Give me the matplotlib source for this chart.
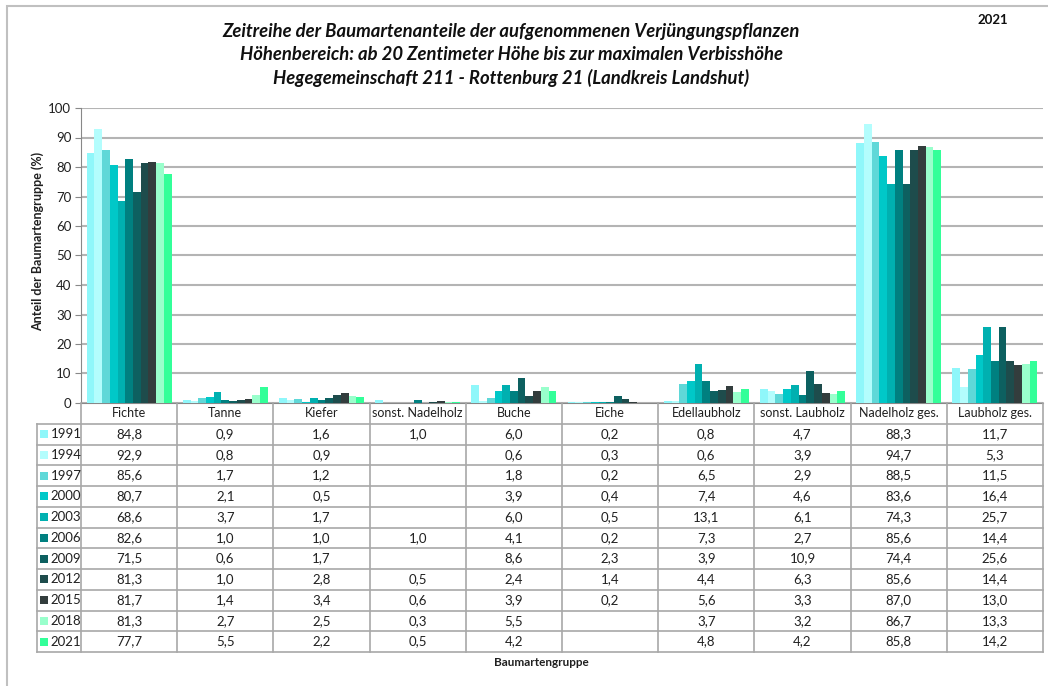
import numpy as np
import matplotlib

matplotlib.use("Agg")
import matplotlib.pyplot as plt
from matplotlib.patches import Rectangle

# ── Data ─────────────────────────────────────────────────────────────
categories = ["Fichte", "Tanne", "Kiefer", "sonst. Nadelholz", "Buche", "Eiche",
              "Edellaubholz", "sonst. Laubholz", "Nadelholz ges.", "Laubholz ges."]
years = ["1991", "1994", "1997", "2000", "2003", "2006", "2009", "2012", "2015", "2018", "2021"]

fichte = [84.8, 92.9, 85.6, 80.7, 68.6, 82.6, 71.5, 81.3, 81.7, 81.3, 77.7]
tanne = [0.9, 0.8, 1.7, 2.1, 3.7, 1.0, 0.6, 1.0, 1.4, 2.7, 5.5]
kiefer = [1.6, 0.9, 1.2, 0.5, 1.7, 1.0, 1.7, 2.8, 3.4, 2.5, 2.2]
sonst_nadelholz = [1.0, None, None, None, None, 1.0, None, 0.5, 0.6, 0.3, 0.5]
buche = [6.0, 0.6, 1.8, 3.9, 6.0, 4.1, 8.6, 2.4, 3.9, 5.5, 4.2]
eiche = [0.2, 0.3, 0.2, 0.4, 0.5, 0.2, 2.3, 1.4, 0.2, None, None]
edellaubholz = [0.8, 0.6, 6.5, 7.4, 13.1, 7.3, 3.9, 4.4, 5.6, 3.7, 4.8]
sonst_laubholz = [4.7, 3.9, 2.9, 4.6, 6.1, 2.7, 10.9, 6.3, 3.3, 3.2, 4.2]
nadelholz_ges = [88.3, 94.7, 88.5, 83.6, 74.3, 85.6, 74.4, 85.6, 87.0, 86.7, 85.8]
laubholz_ges = [11.7, 5.3, 11.5, 16.4, 25.7, 14.4, 25.6, 14.4, 13.0, 13.3, 14.2]

columns = [fichte, tanne, kiefer, sonst_nadelholz, buche, eiche,
           edellaubholz, sonst_laubholz, nadelholz_ges, laubholz_ges]

year_colors = ["#8ff7fa", "#b3fdfd", "#5fd8d8", "#00c8c8", "#00b0b0", "#008080",
               "#0d6060", "#1e4c4c", "#333d3d", "#99ffcc", "#33ff99"]

# ── Figure ───────────────────────────────────────────────────────────
W, H = 1048, 686
FONT = ["Lato", "DejaVu Sans"]
plt.rcParams["font.family"] = FONT

fig = plt.figure(figsize=(W / 100, H / 100), dpi=100)

# outer frame
fig.add_artist(Rectangle((7 / W, -0.01), 1.05, 1 - 6 / H + 0.01, transform=fig.transFigure,
                         fill=False, edgecolor="#c0c0c0", linewidth=1.5))

ax_left, ax_right, ax_top, ax_bottom = 81, 1043, 108, 403
ax = fig.add_axes([ax_left / W, 1 - ax_bottom / H, (ax_right - ax_left) / W,
                   (ax_bottom - ax_top) / H])

n_years = len(years)
x = np.arange(len(categories))
bar_w = 0.884 / n_years
for i, (year, color) in enumerate(zip(years, year_colors)):
    vals = [np.nan if c[i] is None else c[i] for c in columns]
    offs = (i - (n_years - 1) / 2) * bar_w
    ax.bar(x + offs, vals, width=bar_w, color=color, linewidth=0, zorder=3)

ax.set_xlim(-0.5, len(categories) - 0.5)
ax.set_ylim(0, 100)
ax.set_yticks(range(0, 101, 10))
ax.tick_params(axis="y", length=4, color="#888888", labelsize=9.5, pad=3,
               labelcolor="#202020")
ax.set_xticks([])
ax.grid(axis="y", color="#b4b4b4", linewidth=1.5, zorder=0)
for side in ["top", "right"]:
    ax.spines[side].set_visible(False)
ax.spines["left"].set_color("#888888")
ax.spines["bottom"].set_color("#888888")

ax.set_ylabel("Anteil der Baumartengruppe (%)", fontsize=9, fontweight="bold",
              color="#202020")
ax.yaxis.set_label_coords((44 - ax_left) / (ax_right - ax_left),
                          (ax_bottom - 241) / (ax_bottom - ax_top))

# ── Data table below the axis ───────────────────────────────────────
tab_top, tab_bottom = 403, 652
tab_left = 37
cat_px = (ax_right - ax_left) / len(categories)
lab_w = (ax_left - tab_left) / cat_px
tax = fig.add_axes([tab_left / W, 1 - tab_bottom / H, (ax_right - tab_left) / W,
                    (tab_bottom - tab_top) / H])
n_rows = n_years + 1
tax.set_xlim(-0.5 - lab_w, len(categories) - 0.5)
tax.set_ylim(n_rows, 0)
tax.axis("off")

line_kw = dict(color="#a8a8a8", linewidth=1.2, clip_on=False)
for r in range(1, n_rows + 1):
    tax.plot([-0.5 - lab_w, len(categories) - 0.5], [r, r], **line_kw)
tax.plot([-0.5 - lab_w, -0.5 - lab_w], [1, n_rows], **line_kw)
for k in range(len(categories) + 1):
    tax.plot([k - 0.5, k - 0.5], [0, n_rows], **line_kw)

for j, cat in enumerate(categories):
    tax.text(j, 0.5, cat, ha="center", va="center", fontsize=9, color="#202020")
    for i, v in enumerate(columns[j]):
        if v is None:
            continue
        tax.text(j, i + 1.5, f"{v:.1f}".replace(".", ","), ha="center", va="center",
                 fontsize=9.5, color="#202020")

for i, (year, color) in enumerate(zip(years, year_colors)):
    tax.scatter(-0.5 - lab_w + 0.075, i + 1.5, marker="s", s=34, color=color,
                linewidths=0, clip_on=False)
    tax.text(-0.5 - lab_w + 0.14, i + 1.5, year, ha="left", va="center",
             fontsize=9.5, color="#202020")

fig.text(541 / W, 1 - 663 / H, "Baumartengruppe", ha="center", va="center",
         fontsize=8.5, fontweight="bold", color="#202020")

# ── Titles ───────────────────────────────────────────────────────────
title_lines = ["Zeitreihe der Baumartenanteile der aufgenommenen Verjüngungspflanzen",
               "Höhenbereich: ab 20 Zentimeter Höhe bis zur maximalen Verbisshöhe",
               "Hegegemeinschaft 211 - Rottenburg 21 (Landkreis Landshut)"]
for k, line in enumerate(title_lines):
    fig.text(511 / W, 1 - (31 + 23.3 * k) / H, line, ha="center", va="center",
             fontsize=13.3, fontweight="bold", fontstyle="italic", color="#101010")
fig.text(993 / W, 1 - 20 / H, "2021", ha="center", va="center", fontsize=9.5,
         fontweight="bold", color="#101010")

fig.savefig("out.png", dpi=100)
